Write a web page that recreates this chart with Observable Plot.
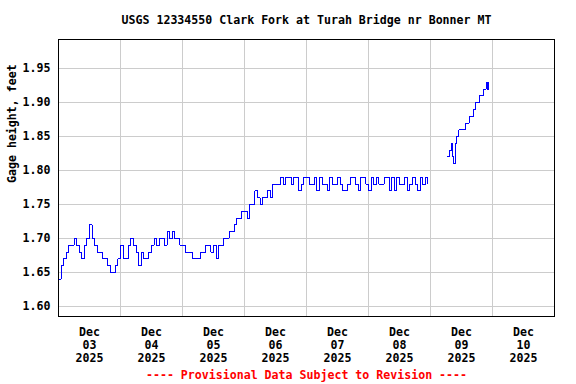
<!DOCTYPE html>
<html>
<head>
<meta charset="utf-8">
<script src="https://cdn.jsdelivr.net/npm/d3@7"></script>
<script src="https://cdn.jsdelivr.net/npm/@observablehq/plot@0.6"></script>
<style>
  html, body { margin: 0; padding: 0; background: #fff; }
</style>
</head>
<body>
<div id="chart"></div>
<script>
const title = "USGS 12334550 Clark Fork at Turah Bridge nr Bonner MT";
const yLabel = "Gage height, feet";
const footer = "---- Provisional Data Subject to Revision ----";

// Segment 1: hourly gage height, starting 2025-12-03 00:00
const seg1Start = "2025-12-03T00:00:00Z";
const seg1Values = [
  1.64, 1.66, 1.67, 1.68, 1.69, 1.69, 1.70, 1.69, 1.68, 1.67, 1.69, 1.70, 1.72, 1.70, 1.69, 1.68, 1.68, 1.67, 1.67, 1.66, 1.65, 1.65, 1.66, 1.67,
  1.69, 1.67, 1.67, 1.69, 1.70, 1.69, 1.68, 1.66, 1.68, 1.67, 1.67, 1.68, 1.69, 1.70, 1.69, 1.70, 1.70, 1.69, 1.71, 1.70, 1.71, 1.70, 1.70, 1.69,
  1.69, 1.68, 1.68, 1.68, 1.67, 1.67, 1.67, 1.68, 1.68, 1.69, 1.69, 1.68, 1.69, 1.67, 1.69, 1.69, 1.70, 1.70, 1.71, 1.71, 1.72, 1.73, 1.73, 1.74,
  1.74, 1.73, 1.75, 1.75, 1.77, 1.76, 1.75, 1.76, 1.76, 1.77, 1.76, 1.78, 1.78, 1.78, 1.79, 1.78, 1.79, 1.79, 1.78, 1.79, 1.79, 1.77, 1.78, 1.79,
  1.79, 1.78, 1.78, 1.79, 1.77, 1.79, 1.78, 1.78, 1.77, 1.79, 1.78, 1.78, 1.79, 1.78, 1.77, 1.77, 1.78, 1.79, 1.79, 1.78, 1.77, 1.79, 1.79, 1.78,
  1.77, 1.79, 1.78, 1.79, 1.78, 1.78, 1.79, 1.79, 1.77, 1.79, 1.77, 1.79, 1.78, 1.78, 1.79, 1.77, 1.78, 1.79, 1.78, 1.77, 1.79, 1.78, 1.79, 1.78
];

// Segment 2: half-hourly gage height, starting 2025-12-09 06:30
const seg2Start = "2025-12-09T06:30:00Z";
const seg2Values = [
  1.82, 1.82, 1.83, 1.84, 1.82, 1.81, 1.84, 1.85, 1.85, 1.86, 1.86, 1.86, 1.86, 1.86, 1.87, 1.87, 1.87,
  1.88, 1.88, 1.88, 1.89, 1.89, 1.90, 1.90, 1.90, 1.91, 1.91, 1.91, 1.92, 1.92, 1.93, 1.92, 1.93
];

const yTicks = [1.60, 1.65, 1.70, 1.75, 1.80, 1.85, 1.90, 1.95];
const dayLabels = ["03", "04", "05", "06", "07", "08", "09", "10"];
const xStart = "2025-12-03T00:00:00Z";
const xEnd = "2025-12-11T00:00:00Z";
const yDomain = [1.585, 1.993];

const HOUR = 3600e3;
const rows = [];
seg1Values.forEach((v, i) => rows.push({t: new Date(+new Date(seg1Start) + i * HOUR), v, seg: 1}));
seg2Values.forEach((v, i) => rows.push({t: new Date(+new Date(seg2Start) + i * HOUR / 2), v, seg: 2}));

const day0 = new Date(xStart);
const noonTicks = dayLabels.map((d, i) => new Date(+day0 + (i * 24 + 12) * HOUR));
const midnightTicks = dayLabels.slice(1).map((d, i) => new Date(+day0 + (i + 1) * 24 * HOUR));
const labelFor = new Map(noonTicks.map((t, i) => [+t, "Dec\n" + dayLabels[i] + "\n2025"]));

const font = "'DejaVu Sans Mono', monospace";

const chart = Plot.plot({
  width: 576,
  height: 384,
  marginTop: 39,
  marginBottom: 68,
  marginLeft: 58,
  marginRight: 22,
  style: {fontFamily: font, fontWeight: "bold", fontSize: "11.6px", color: "#000", background: "#fff"},
  x: {type: "utc", domain: [new Date(xStart), new Date(xEnd)]},
  y: {domain: yDomain},
  marks: [
    Plot.gridY(yTicks, {stroke: "#cccccc", strokeOpacity: 1, shapeRendering: "crispEdges"}),
    Plot.gridX(midnightTicks, {stroke: "#cccccc", strokeOpacity: 1, shapeRendering: "crispEdges"}),
    Plot.lineY(rows, {x: "t", y: "v", z: "seg", curve: "step-after", stroke: "#0000ff", strokeWidth: 1, shapeRendering: "crispEdges"}),
    Plot.frame({stroke: "#000", strokeWidth: 1, shapeRendering: "crispEdges"}),
    Plot.axisY({ticks: yTicks, tickFormat: d => d.toFixed(2), tickSize: 0, tickPadding: 8, label: null, fontSize: 11.6, fontWeight: "bold"}),
    Plot.axisX({ticks: noonTicks, tickFormat: d => labelFor.get(+d), tickSize: 0, tickPadding: 10, label: null, lineHeight: 1.12, fontSize: 11.6}),
    Plot.text([title], {frameAnchor: "top", dy: -19, text: d => d, fontSize: 11.6, fontWeight: "bold", lineAnchor: "middle"}),
    Plot.text([yLabel], {frameAnchor: "left", dx: -46, dy: 5, rotate: -90, text: d => d, fontSize: 11.6, fontWeight: "bold", lineAnchor: "middle"}),
    Plot.text([footer], {frameAnchor: "bottom", dy: 59, text: d => d, fill: "#ff0000", fontSize: 11.6, fontWeight: "bold", lineAnchor: "middle"})
  ]
});
document.getElementById("chart").appendChild(chart);
</script>
</body>
</html>
